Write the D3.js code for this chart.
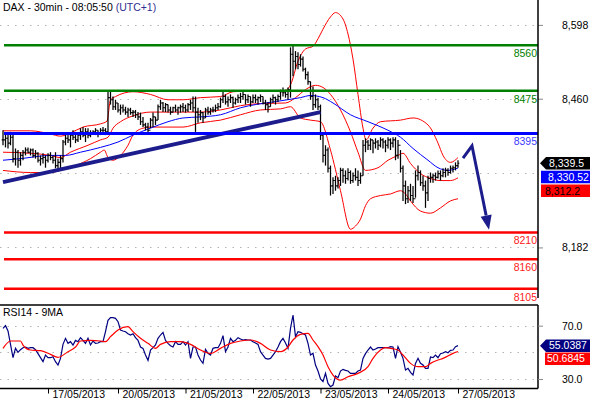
<!DOCTYPE html>
<html><head><meta charset="utf-8">
<script src="https://cdnjs.cloudflare.com/ajax/libs/d3/7.8.5/d3.min.js"></script>
<style>
body{margin:0;background:#fff;}
svg text{font-family:"Liberation Sans",Arial,sans-serif;font-size:10.5px;}
</style>
</head><body>
<svg id="c" width="590" height="400"></svg>
<script>
// ---------------- DATA ----------------
const titleMain = "DAX - 30min - 08:05:50 ";
const titleTz = "(UTC+1)";
const rsiTitle = "RSI14 - 9MA";

// 30-min OHLC bars (high / low / close)
const barHigh = [
8401,8396,8392,8398,8396,8367,8364,8360,8364,8369,
8369,8367,8367,8364,8360,8354,8358,8354,8358,8360,
8354,8360,8348,8354,8383,8396,8398,8396,8401,8398,
8396,8405,8407,8405,8405,8401,8401,8405,8401,8405,
8407,8405,8473,8473,8464,8458,8452,8449,8449,8445,
8443,8443,8439,8439,8435,8434,8426,8415,8415,8424,
8434,8426,8449,8458,8454,8452,8449,8445,8445,8449,
8445,8449,8452,8449,8452,8458,8464,8464,8443,8439,
8435,8443,8445,8443,8445,8449,8452,8462,8473,8468,
8464,8468,8464,8462,8468,8471,8473,8468,8468,8464,
8468,8468,8464,8468,8464,8458,8454,8462,8468,8464,
8468,8477,8481,8477,8481,8556,8562,8549,8547,8543,
8539,8518,8511,8492,8483,8468,8462,8449,8392,8373,
8369,8335,8313,8316,8313,8331,8330,8326,8330,8326,
8322,8330,8326,8322,8383,8386,8383,8386,8383,8386,
8383,8388,8386,8383,8388,8386,8388,8388,8383,8364,
8335,8307,8297,8301,8297,8326,8335,8326,8316,8307,
8316,8322,8320,8322,8326,8326,8330,8331,8330,8335,
8335,8341,8345];
const barLow = [
8373,8369,8367,8373,8341,8335,8331,8335,8345,8354,
8358,8354,8350,8348,8341,8335,8339,8331,8341,8345,
8339,8330,8326,8330,8341,8373,8377,8369,8383,8377,
8379,8383,8388,8379,8386,8388,8392,8392,8388,8392,
8396,8392,8396,8449,8439,8439,8434,8430,8434,8430,
8426,8430,8426,8424,8420,8411,8407,8401,8396,8405,
8407,8411,8420,8439,8435,8435,8434,8430,8434,8435,
8430,8434,8435,8434,8435,8439,8435,8398,8415,8420,
8415,8424,8430,8430,8434,8435,8439,8443,8452,8449,
8445,8452,8443,8449,8452,8452,8458,8449,8452,8445,
8452,8452,8449,8454,8449,8439,8434,8445,8452,8449,
8454,8458,8464,8462,8458,8462,8502,8515,8515,8520,
8511,8496,8486,8458,8439,8443,8439,8383,8341,8335,
8322,8279,8282,8288,8292,8297,8303,8301,8307,8301,
8303,8307,8297,8301,8316,8360,8364,8364,8358,8367,
8364,8369,8367,8360,8367,8364,8369,8345,8348,8322,
8269,8263,8265,8269,8265,8275,8307,8297,8288,8256,
8269,8303,8303,8307,8311,8307,8313,8313,8316,8320,
8322,8326,8331];
const barClose = [
8383,8386,8377,8388,8348,8360,8345,8354,8360,8364,
8360,8364,8354,8358,8345,8348,8350,8345,8354,8350,
8345,8335,8341,8348,8379,8386,8383,8392,8388,8383,
8392,8398,8392,8398,8392,8396,8398,8401,8396,8401,
8401,8398,8462,8458,8445,8452,8439,8443,8439,8435,
8439,8434,8435,8430,8426,8417,8411,8407,8401,8420,
8426,8420,8445,8452,8443,8449,8439,8435,8443,8439,
8443,8445,8443,8439,8449,8452,8443,8435,8430,8434,
8424,8439,8435,8439,8439,8443,8445,8458,8464,8454,
8458,8462,8452,8458,8462,8464,8468,8458,8464,8454,
8462,8458,8462,8464,8452,8449,8445,8458,8462,8458,
8464,8473,8471,8468,8477,8543,8530,8539,8524,8534,
8515,8505,8492,8464,8449,8458,8445,8392,8354,8364,
8330,8297,8307,8297,8307,8326,8316,8311,8322,8307,
8316,8313,8307,8316,8373,8379,8373,8383,8377,8379,
8373,8383,8379,8373,8383,8377,8383,8354,8373,8330,
8297,8273,8288,8279,8273,8316,8322,8303,8297,8284,
8311,8313,8316,8313,8320,8316,8322,8326,8322,8330,
8331,8335,8339.5];

// Bollinger bands [bar index, price]
const bbUpper = [[0,8400],[11,8400],[19,8394],[23,8390],[27,8396],[32,8407],[39,8413],[41.6,8418],[43,8458],[45,8464],[52,8473],[59,8468],[66,8458],[72,8458],[79,8462],[87,8464],[92,8473],[102,8475],[112,8473],[115,8486],[118,8530],[121,8553],[124,8558],[126,8572],[128,8590],[131,8613],[133,8621],[136,8609],[138,8581],[140,8534],[142,8468],[144,8405],[145.2,8383],[148,8405],[151,8417],[159,8420],[164,8424],[170,8411],[174,8377],[176,8354],[179,8341],[182,8350]];
const bbMiddle = [[0,8360],[11,8358],[19,8354],[23,8350],[27,8360],[34,8373],[39,8383],[42,8388],[44,8405],[47,8417],[52,8428],[59,8435],[79,8435],[87,8439],[95,8447],[103,8451],[113,8452],[117,8462],[121,8477],[125,8485],[128,8481],[131,8468],[135,8439],[139,8398],[142,8360],[145,8326],[150,8331],[154,8345],[158,8354],[160,8358],[163,8339],[167,8320],[171,8311],[175,8307],[179,8307],[182,8312.2]];
const bbLower = [[0,8326],[11,8322],[19,8322],[23,8326],[29,8335],[35,8348],[39,8360],[40.5,8364],[42,8350],[44,8345],[47,8354],[50,8373],[52,8392],[56,8405],[59,8407],[72,8407],[79,8415],[87,8420],[95,8430],[103,8439],[111,8441],[115,8445],[119,8424],[123,8420],[127,8417],[131,8364],[135,8288],[139,8216],[141,8222],[143,8235],[145,8260],[147,8273],[151,8279],[155,8282],[159,8288],[161,8282],[163,8269],[167,8250],[171,8246],[175,8256],[179,8269],[182,8273]];
// moving average (blue) [bar index, price]
const maLine = [[0,8345],[7,8348],[19,8354],[25,8354],[31,8360],[39,8369],[46,8379],[52,8392],[59,8405],[66,8417],[72,8424],[79,8426],[87,8430],[95,8443],[108,8454],[119,8462],[123,8466],[128,8462],[132,8452],[139,8430],[146,8417],[154,8401],[159,8388],[164,8367],[170,8345],[174,8331],[178,8326],[182,8330.52]];

// horizontal levels
const levelValues = [8560, 8475, 8395, 8210, 8160, 8105];
const levelKinds  = ["resistance","resistance","pivot","support","support","support"];
// trend line and projection arrow [bar index, price]
const trendLine = [[0,8304],[127,8435]];
const projection = [[184,8349],[187.6,8372],[194.4,8215]];

// RSI(14) per bar and its 9-period MA [bar index, value]
const rsi = [
68,70,66,56,46,53,50,52,53.5,54,
53,53.5,53.5,52,49,46,43,48,46,46,
46.75,43,40.5,45.5,56,60.5,56.75,58,55.5,59,
58,61,59,56.75,60.5,55.5,58.5,56.75,57,58,
58,65.5,74,76,76,75.5,73,66.75,66,65.5,
64,63,64,61,59,54,53,48,44,51.75,
53.5,55.5,60.5,63,65,59,56.75,55,54,58,
56,56,58,55.5,58,45.5,54,54,48,44.25,
41.75,52.25,49.25,48,53,53.5,53.5,56.75,62.5,50.5,
54,60.5,58,59,61,60,59.25,59.5,59.25,59.25,
58,57,56,50.5,48,45.5,45,45.5,48,50.5,
54,58,60.5,57,53,68,78,61.75,65.5,65,
64,63,56.75,48,49.25,40.5,36,30,28,34.25,
26.75,24.25,25.5,32.25,31,36,37.25,36.5,36,34.25,
34.25,34.25,36,36.75,45.5,49,51.75,54,51.75,52.5,
53.5,53.5,53.5,53.5,53.5,54.25,54,45.5,54.25,50,
45.5,36.75,38,35,33,41.75,45.5,41.75,40.5,38,
38,46.5,46,48,46,49,49.5,50.5,49.75,51.5,
51.75,54.25,55.0387];
const rsiMA = [[0,53],[3,58.5],[7,58.5],[8,55.5],[11,51.75],[15,51.25],[19,48.5],[22,46.25],[26,50.5],[29,54],[31,58.5],[35,59],[39,58.5],[41,58],[43,61.75],[46,66.75],[50,69.25],[52,65.5],[55,60.5],[58,56.75],[61,53],[63,56],[67,58],[71,58],[75,56],[79,51.75],[83,49.25],[87,53],[91,56.75],[95,58.5],[99,59.25],[103,56.75],[107,51.75],[111,50.5],[114,54],[116,59.25],[119,63.5],[122,64.25],[124,59.25],[126,54.25],[128,48],[130,39.25],[132,33],[135,29.25],[138,31.75],[142,34.25],[146,39.25],[148,45.5],[151,51.75],[153,53.5],[155,53],[158,51.75],[160,48],[163,41.75],[166,39.25],[169,39.25],[171,41.75],[174,44.25],[176,45.5],[180,49.25],[182,50.6845]];

// axes
const priceGrid = [8598, 8460, 8321, 8182];
const priceLabels = [8598, 8460, 8182];      // 8,321 is hidden behind value tags
const rsiGrid = [70, 50, 30];
const rsiLabels = [70, 30];                  // 50.0 is hidden behind value tags
const dateTicks = [18, 46, 73, 100, 127, 154, 182];
const dateLabels = ["17/05/2013","20/05/2013","21/05/2013","22/05/2013","23/05/2013","24/05/2013","27/05/2013"];

// ---------------- CHART ----------------
const svg = d3.select("#c");
const axisX = 538;
const P = {top:0, bottom:298};
const R = {top:305, bottom:388.5};

const x = d3.scaleLinear().domain([0, 214]).range([3, axisX]);
const y = d3.scaleLinear().domain([8087.5, 8644.5]).range([P.bottom, P.top]);
const yr = d3.scaleLinear().domain([22.9, 85.5]).range([R.bottom, R.top]);

const defs = svg.append("defs");
defs.append("clipPath").attr("id","cp").append("rect").attr("x",0).attr("y",P.top).attr("width",axisX).attr("height",P.bottom-P.top);
defs.append("clipPath").attr("id","cr").append("rect").attr("x",0).attr("y",R.top).attr("width",axisX).attr("height",R.bottom-R.top);

const gridColor = "#b4b4b4";
svg.append("g").selectAll("line").data(priceGrid).join("line")
  .attr("x1",0).attr("x2",axisX).attr("y1",d=>Math.round(y(d))+0.5).attr("y2",d=>Math.round(y(d))+0.5)
  .attr("stroke",gridColor).attr("stroke-dasharray","1.5,6");

const gp = svg.append("g").attr("clip-path","url(#cp)");

const ptLine = d3.line().x(d=>x(d[0])).y(d=>y(d[1])).curve(d3.curveMonotoneX);
[bbUpper, bbMiddle, bbLower].forEach(b=>{
  gp.append("path").attr("d", ptLine(b)).attr("fill","none").attr("stroke","#ff0000").attr("stroke-width",1);
});
gp.append("path").attr("d", ptLine(maLine)).attr("fill","none").attr("stroke","#0000ff").attr("stroke-width",1);

// OHLC bars
const bars = gp.append("g").attr("stroke","#000");
barClose.forEach((c,i)=>{
  const xi = x(i);
  const o = i>0 ? barClose[i-1] : c;
  bars.append("line").attr("x1",xi).attr("x2",xi).attr("y1",y(barHigh[i])).attr("y2",y(barLow[i])).attr("stroke-width",1.25);
  bars.append("line").attr("x1",xi-1.3).attr("x2",xi).attr("y1",y(o)).attr("y2",y(o)).attr("stroke-width",1.1);
  bars.append("line").attr("x1",xi).attr("x2",xi+1.3).attr("y1",y(c)).attr("y2",y(c)).attr("stroke-width",1.1);
});

// levels
const levelStyle = {resistance:{c:"#008000",t:"#008000",w:2.5}, pivot:{c:"#0000ff",t:"#3c3cff",w:3}, support:{c:"#ff0000",t:"#ff2020",w:2.5}};
const gl = svg.append("g");
levelValues.forEach((v,i)=>{
  const s = levelStyle[levelKinds[i]];
  gl.append("line").attr("x1",4).attr("x2",axisX).attr("y1",y(v)).attr("y2",y(v)).attr("stroke",s.c).attr("stroke-width",s.w);
  gl.append("text").attr("x",axisX-1).attr("y",y(v)+12).attr("text-anchor","end").attr("fill",s.t).text(v);
});

// trend line
const navy = "#1c1c8c";
gp.append("path").attr("d", d3.line().x(d=>x(d[0])).y(d=>y(d[1]))(trendLine))
  .attr("stroke",navy).attr("stroke-width",4).attr("fill","none");

// projection arrow
const sp = projection.map(d=>[x(d[0]), y(d[1])]);
const tip = sp[sp.length-1], prev = sp[sp.length-2];
const dx = tip[0]-prev[0], dy = tip[1]-prev[1], len = Math.hypot(dx,dy);
const ux = dx/len, uy = dy/len, headL = 14.5, headW = 5.6;
const base = [tip[0]-ux*headL, tip[1]-uy*headL];
svg.append("path").attr("d", d3.line()([sp[0], sp[1], base]))
  .attr("stroke",navy).attr("stroke-width",3).attr("fill","none");
svg.append("polygon").attr("points", [[base[0]-uy*headW, base[1]+ux*headW],[tip[0],tip[1]],[base[0]+uy*headW, base[1]-ux*headW]].map(p=>p.join(",")).join(" "))
  .attr("fill",navy);

// price axis
const pa = svg.append("g").attr("transform",`translate(${axisX},0)`)
  .call(d3.axisRight(y).tickValues(priceLabels).tickSize(5).tickPadding(19).tickFormat(d3.format(",")));
pa.select(".domain").remove();
pa.selectAll(".tick line").attr("stroke","#888");
pa.selectAll("text").attr("fill","#000").style("font-size","10.5px").style("font-family","'Liberation Sans',Arial,sans-serif");
svg.append("line").attr("x1",axisX).attr("x2",axisX).attr("y1",P.top).attr("y2",P.bottom).attr("stroke","#000").attr("stroke-width",1.5);

// title
const tt = svg.append("text").attr("x",3).attr("y",10.5).attr("fill","#000").text(titleMain);
tt.append("tspan").attr("fill","#303090").text(titleTz);

// ---------------- RSI PANEL ----------------
svg.append("g").selectAll("line").data(rsiGrid).join("line")
  .attr("x1",0).attr("x2",axisX).attr("y1",d=>Math.round(yr(d))+0.5).attr("y2",d=>Math.round(yr(d))+0.5)
  .attr("stroke",gridColor).attr("stroke-dasharray","1.5,6");
const gr = svg.append("g").attr("clip-path","url(#cr)");
gr.append("path").attr("d", d3.line().x((d,i)=>x(i)).y(d=>yr(d))(rsi))
  .attr("fill","none").attr("stroke","#000080").attr("stroke-width",1.2);
gr.append("path").attr("d", d3.line().x(d=>x(d[0])).y(d=>yr(d[1])).curve(d3.curveMonotoneX)(rsiMA))
  .attr("fill","none").attr("stroke","#ff0000").attr("stroke-width",1.2);

svg.append("line").attr("x1",0).attr("x2",axisX).attr("y1",R.top).attr("y2",R.top).attr("stroke","#000").attr("stroke-width",1.5);
svg.append("line").attr("x1",0).attr("x2",axisX).attr("y1",R.bottom).attr("y2",R.bottom).attr("stroke","#000").attr("stroke-width",1.5);
svg.append("line").attr("x1",axisX).attr("x2",axisX).attr("y1",R.top).attr("y2",R.bottom).attr("stroke","#000").attr("stroke-width",1.5);
svg.append("text").attr("x",3).attr("y",316).attr("fill","#000").text(rsiTitle);

const ra = svg.append("g").attr("transform",`translate(${axisX},0)`)
  .call(d3.axisRight(yr).tickValues(rsiLabels).tickSize(5).tickPadding(19).tickFormat(d3.format(".1f")));
ra.select(".domain").remove();
ra.selectAll(".tick line").attr("stroke","#888");
ra.selectAll("text").attr("fill","#000").style("font-size","10.5px").style("font-family","'Liberation Sans',Arial,sans-serif");

// date axis
const da = svg.append("g").attr("transform",`translate(0,${R.bottom})`)
  .call(d3.axisBottom(x).tickValues(dateTicks).tickSize(5).tickFormat((d,i)=>dateLabels[i]));
da.select(".domain").remove();
da.selectAll(".tick line").attr("stroke","#000");
da.selectAll("text").attr("text-anchor","start").attr("x",4).attr("y",9.3).attr("dy",0)
  .attr("fill","#000").style("font-size","10.5px").style("font-family","'Liberation Sans',Arial,sans-serif");

// ---------------- VALUE TAGS ----------------
const tagH = 12.5, gap = 13.8;
function stack(vals, g){ const out=[]; vals.forEach((v,k)=>{ out.push(k===0? v : Math.max(v, out[k-1]+g)); }); return out; }
function drawTag(yc, o){
  const top = yc-tagH/2, bot = yc+tagH/2, x1 = 592;
  const pts = o.arrow ? [[540,yc],[546,top],[x1,top],[x1,bot],[546,bot]] : [[o.left,top],[x1,top],[x1,bot],[o.left,bot]];
  svg.append("polygon").attr("points", pts.map(p=>p.join(",")).join(" ")).attr("fill",o.fill);
  svg.append("text").attr("x",o.tx).attr("y",yc+3.8).attr("fill",o.color).text(o.label);
}
const lastClose = barClose[barClose.length-1];
const lastMA = maLine[maLine.length-1][1];
const lastMid = bbMiddle[bbMiddle.length-1][1];
const py = stack([y(lastClose), y(lastMA), y(lastMid)], gap);
drawTag(py[0], {arrow:true, fill:"#000", color:"#fff", tx:549, label:d3.format(",.1f")(lastClose)});
drawTag(py[1], {arrow:false, left:541, fill:"#0000ff", color:"#fff", tx:548, label:d3.format(",.2f")(lastMA)});
drawTag(py[2], {arrow:false, left:541, fill:"#ff0000", color:"#000", tx:545, label:d3.format(",.1f")(lastMid)});

const lastRsi = rsi[rsi.length-1], lastRsiMA = rsiMA[rsiMA.length-1][1];
const ry = stack([yr(lastRsi), yr(lastRsiMA)], 13);
drawTag(ry[0], {arrow:true, fill:"#000080", color:"#fff", tx:549, label:d3.format(".4f")(lastRsi)});
drawTag(ry[1], {arrow:false, left:545, fill:"#ff0000", color:"#fff", tx:547, label:d3.format(".4f")(lastRsiMA)});
</script>
</body></html>
